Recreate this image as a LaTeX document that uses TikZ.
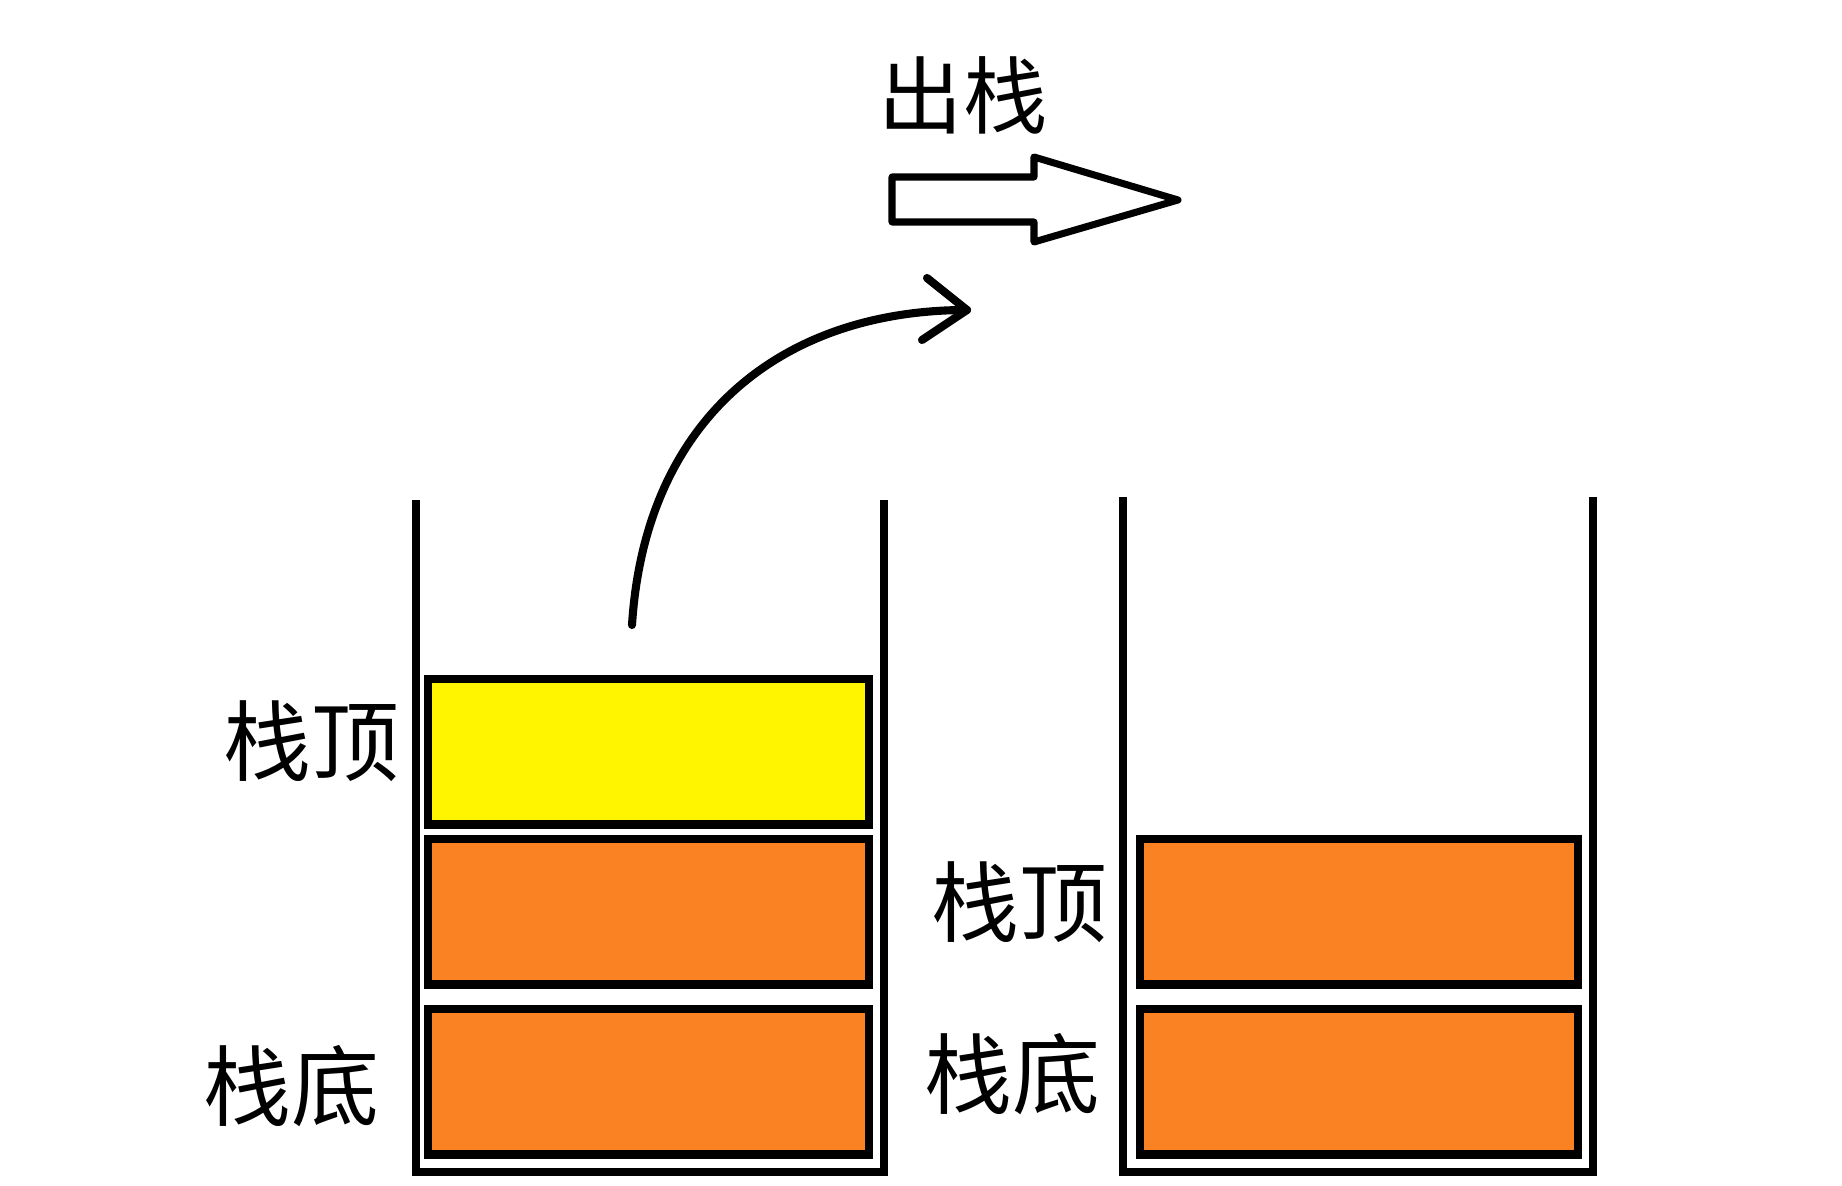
\documentclass[tikz,border=0pt]{standalone}
\usepackage{fontspec}
\newfontfamily\cjk{Noto Sans CJK SC}
\definecolor{topyellow}{RGB}{255,245,0}
\definecolor{boxorange}{RGB}{250,130,34}
\begin{document}
\begin{tikzpicture}[x=0.01cm, y=-0.01cm,
  wall/.style={draw=black, line width=2.3pt, line join=miter},
  stackbox/.style={draw=black, line width=2.3pt, inner sep=0pt, minimum width=4.41cm, minimum height=1.45cm},
  rstackbox/.style={stackbox, minimum width=4.38cm},
  lbl/.style={font=\cjk\fontsize{25pt}{30pt}\selectfont, inner sep=0pt},
  ttl/.style={font=\cjk\fontsize{24pt}{29pt}\selectfont, inner sep=0pt},
  curve/.style={draw=black, line width=2.3pt, line cap=round, line join=round},
  bigarrow/.style={draw=black, line width=2pt, line join=round, fill=white}]
\useasboundingbox[fill=white] (0,0) rectangle (1842,1186);

% left stack container
\draw[wall] (416,500) -- (416,1172) -- (884,1172) -- (884,500);
% right stack container
\draw[wall] (1123,497) -- (1123,1172) -- (1593,1172) -- (1593,497);

% left stack elements
\node[stackbox, fill=topyellow] (ltop) at (648.5,752) {};
\node[stackbox, fill=boxorange] (lmid) at (648.5,912) {};
\node[stackbox, fill=boxorange] (lbot) at (648.5,1082) {};

% right stack elements
\node[rstackbox, fill=boxorange] (rtop) at (1359,912) {};
\node[rstackbox, fill=boxorange] (rbot) at (1359,1082) {};

% labels
\node[lbl] (ltoplbl) at (311,741) {栈顶};
\node[lbl] (lbotlbl) at (291,1086) {栈底};
\node[lbl] (rtoplbl) at (1019,902) {栈顶};
\node[lbl] (rbotlbl) at (1012,1074) {栈底};

% title and hollow arrow
\node[ttl] (title) at (963,95) {出栈};
\draw[bigarrow] (892,177) -- (1034,177) -- (1034,157) -- (1178,200) -- (1034,242) -- (1034,222) -- (892,222) -- cycle;

% curved pop arrow
\coordinate (src) at (632,625);
\coordinate (tip) at (967,310);
\draw[curve] (src) .. controls (645,420) and (780,310) .. (tip);
\draw[curve] (tip) -- ++(-40,-32);
\draw[curve] (tip) -- ++(-45,30);
\end{tikzpicture}
\end{document}
